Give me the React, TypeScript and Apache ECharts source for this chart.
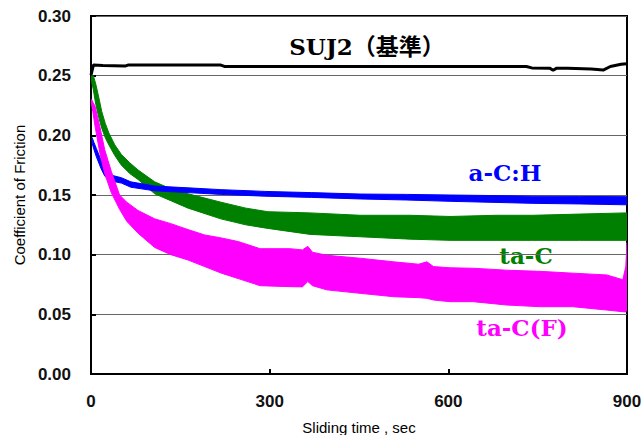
import React, { useEffect, useRef } from "react";
import * as echarts from "echarts";

// x ticks / y ticks
const X_MIN = 0, X_MAX = 900, X_STEP = 300;
const Y_MIN = 0, Y_MAX = 0.3, Y_STEP = 0.05;

// SUJ2 (基準) – black line
const sujT = [0, 4, 20, 57, 62, 218, 224, 500, 731, 740, 770, 776, 782, 800, 840, 860, 872, 890, 900];
const sujV = [0.2505, 0.2589, 0.2585, 0.258, 0.2589, 0.2589, 0.2577, 0.2577, 0.2577, 0.2565, 0.2563, 0.2545, 0.2563, 0.2563, 0.2555, 0.2547, 0.2577, 0.2595, 0.26];

// a-C:H – blue band (upper / lower envelope)
const achT = [2, 5, 9, 17, 23, 31, 51, 67, 107, 163, 218, 292, 370, 452, 530, 603, 680, 742, 820, 897, 900];
const achUpper = [0.198, 0.194, 0.189, 0.179, 0.172, 0.167, 0.1645, 0.161, 0.1575, 0.156, 0.1545, 0.153, 0.152, 0.1508, 0.1505, 0.15, 0.1495, 0.149, 0.1488, 0.1486, 0.1486];
const achLower = [0.193, 0.188, 0.182, 0.172, 0.166, 0.162, 0.16, 0.1565, 0.1535, 0.152, 0.1505, 0.149, 0.148, 0.1467, 0.1458, 0.1447, 0.1438, 0.143, 0.1425, 0.1418, 0.1418];

// ta-C – green band
const tacT = [1, 4, 8, 13, 18, 24, 30, 40, 51, 65, 79, 107, 135, 163, 218, 260, 297, 368, 452, 536, 603, 680, 742, 820, 897, 900];
const tacUpper = [0.25, 0.25, 0.243, 0.232, 0.22, 0.21, 0.202, 0.192, 0.184, 0.177, 0.171, 0.161, 0.155, 0.151, 0.144, 0.139, 0.136, 0.135, 0.133, 0.133, 0.132, 0.133, 0.133, 0.134, 0.135, 0.135];
const tacLower = [0.245, 0.238, 0.226, 0.215, 0.206, 0.198, 0.192, 0.183, 0.175, 0.168, 0.163, 0.151, 0.145, 0.139, 0.13, 0.125, 0.122, 0.117, 0.115, 0.113, 0.112, 0.112, 0.112, 0.112, 0.112, 0.112];

// ta-C(F) – magenta band
const tacfT = [1, 3, 7, 15, 23, 34, 48, 60, 79, 107, 134, 163, 191, 219, 247, 284, 334, 355, 364, 372, 396, 452, 508, 550, 564, 575, 603, 642, 698, 754, 809, 866, 893, 898, 900];
const tacfUpper = [0.23, 0.228, 0.224, 0.207, 0.188, 0.17, 0.15, 0.144, 0.137, 0.13, 0.126, 0.121, 0.1165, 0.114, 0.111, 0.105, 0.105, 0.104, 0.107, 0.102, 0.0995, 0.097, 0.094, 0.092, 0.094, 0.09, 0.089, 0.0886, 0.087, 0.086, 0.0845, 0.083, 0.079, 0.09, 0.11];
const tacfLower = [0.226, 0.22, 0.207, 0.185, 0.168, 0.152, 0.138, 0.128, 0.118, 0.106, 0.1, 0.0955, 0.09, 0.0845, 0.08, 0.074, 0.0732, 0.073, 0.0775, 0.074, 0.0705, 0.0676, 0.0648, 0.064, 0.0634, 0.062, 0.0606, 0.0606, 0.0578, 0.0564, 0.0564, 0.0536, 0.0522, 0.052, 0.054];

const LABEL_FONT = "'Liberation Sans', Arial, sans-serif";
const SERIF = "'DejaVu Serif', 'Noto Sans CJK JP', serif";

function bandSeries(name: string, t: number[], up: number[], lo: number[], color: string) {
  return {
    type: "custom",
    name,
    coordinateSystem: "cartesian2d",
    clip: true,
    data: [[t[0], up[0]]],
    renderItem: (_params: any, api: any) => {
      const pts: number[][] = [];
      for (let i = 0; i < t.length; i++) pts.push(api.coord([t[i], up[i]]));
      for (let i = t.length - 1; i >= 0; i--) pts.push(api.coord([t[i], lo[i]]));
      return {
        type: "polygon",
        shape: { points: pts },
        style: { fill: color, stroke: color, lineWidth: 1 },
      };
    },
  };
}

export default function App() {
  const ref = useRef<HTMLDivElement>(null);
  useEffect(() => {
    if (!ref.current) return;
    const chart = echarts.init(ref.current, null, { renderer: "svg" });
    chart.setOption({
      animation: false,
      backgroundColor: "#fff",
      grid: {
        left: 91, top: 16, right: 14, bottom: 61,
        containLabel: false, outerBoundsMode: "none",
        show: true, borderColor: "#000", borderWidth: 2,
      },
      xAxis: {
        type: "value", min: X_MIN, max: X_MAX, interval: X_STEP,
        name: "Sliding time , sec", nameLocation: "middle", nameGap: 46,
        nameTextStyle: { fontFamily: LABEL_FONT, fontSize: 15, color: "#000" },
        axisLine: { show: true, lineStyle: { color: "#000", width: 2 } },
        axisTick: { show: true, inside: true, length: 5, lineStyle: { color: "#000", width: 2 } },
        axisLabel: { fontFamily: LABEL_FONT, fontSize: 17, fontWeight: "bold", color: "#111", margin: 19 },
        splitLine: { show: false },
      },
      yAxis: {
        type: "value", min: Y_MIN, max: Y_MAX, interval: Y_STEP,
        name: "Coefficient of Friction", nameLocation: "middle", nameGap: 63,
        nameTextStyle: { fontFamily: LABEL_FONT, fontSize: 15, color: "#000" },
        axisLine: { show: true, lineStyle: { color: "#000", width: 2 } },
        axisTick: { show: true, inside: true, length: 5, lineStyle: { color: "#000", width: 2 } },
        axisLabel: {
          fontFamily: LABEL_FONT, fontSize: 17, fontWeight: "bold", color: "#111", margin: 20,
          formatter: (v: number) => v.toFixed(2),
        },
        splitLine: { show: true, lineStyle: { color: "#666", width: 1 } },
      },
      series: [
        bandSeries("ta-C", tacT, tacUpper, tacLower, "#008000"),
        bandSeries("a-C:H", achT, achUpper, achLower, "#0000ff"),
        bandSeries("ta-C(F)", tacfT, tacfUpper, tacfLower, "#ff00ff"),
        {
          type: "line", name: "SUJ2", showSymbol: false,
          data: sujT.map((t, i) => [t, sujV[i]]),
          lineStyle: { color: "#000", width: 3 },
        },
      ],
      graphic: [
        { type: "text", x: 367, y: 46, style: { text: "SUJ2（基準）", font: `bold 23px ${SERIF}`, fill: "#000", textAlign: "center", textVerticalAlign: "middle" } },
        { type: "text", x: 505, y: 172, style: { text: "a-C:H", font: `bold 23px ${SERIF}`, fill: "#0000ff", textAlign: "center", textVerticalAlign: "middle" } },
        { type: "text", x: 526, y: 255, style: { text: "ta-C", font: `bold 23px ${SERIF}`, fill: "#008000", textAlign: "center", textVerticalAlign: "middle" } },
        { type: "text", x: 522, y: 327, style: { text: "ta-C(F)", font: `bold 23px ${SERIF}`, fill: "#ff00ff", textAlign: "center", textVerticalAlign: "middle" } },
      ],
    });
    return () => chart.dispose();
  }, []);
  return <div ref={ref} style={{ position: "fixed", left: 0, top: 0, width: 641, height: 435 }} />;
}
